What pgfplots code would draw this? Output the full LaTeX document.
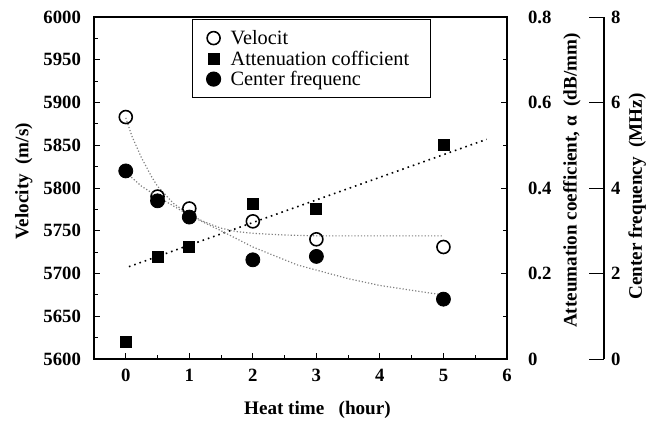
\documentclass[border=0pt]{standalone}
\usepackage{pgfplots}
\pgfplotsset{compat=1.18}
\usepackage{fontspec}
\setmainfont{Liberation Serif}
\begin{document}
\begin{tikzpicture}
\pgfplotsset{
  base/.style={
    scale only axis, width=206.5bp, height=171bp,
    xmin=-0.5, xmax=6,
    /pgf/number format/assume math mode=true,
    ticklabel style={font=\fontsize{9.4}{11}\selectfont\bfseries},
    label style={font=\fontsize{9.6}{11}\selectfont\bfseries},
    tick align=inside,
    major tick length=3bp, minor tick length=2bp,
    tick style={black, line width=0.5pt},
    axis line style={line width=0.6pt},
  },
  myleg/.style={legend image code/.code={\path[draw=none,fill=none] (-10.5bp,0bp) -- (8.5bp,0bp); \draw[##1] plot[only marks] coordinates {(0bp,0bp)};}},
}
% Velocity axis
\begin{axis}[base,
  ymin=5600, ymax=6000,
  ytick={5600,5650,...,6000}, minor ytick={5625,5675,...,5975},
  xtick={0,...,6}, minor xtick={-0.5,0.5,1.5,...,5.5},
  xtick pos=bottom, ytick pos=left,
  yticklabel style={xshift=-3bp},
  xticklabel style={yshift=-1.5bp},
  /pgf/number format/.cd, 1000 sep={}, /pgfplots/.cd,
  xlabel={Heat time\ \ \ (hour)},
  xlabel style={at={(axis description cs:0.541,-0.149)}, anchor=center},
  ylabel={Velocity\ \ (m/s)},
  ylabel style={at={(axis description cs:-0.17,0.52)}, anchor=center, rotate=0},
  legend style={at={(axis description cs:0.2373,0.994)}, anchor=north west,
    draw=black, line width=0.6pt, font=\fontsize{10.2}{12}\selectfont,
    row sep=0pt, column sep=0pt, inner xsep=0pt, inner ysep=4.1bp,
    nodes={inner xsep=0pt, inner ysep=0pt, text height=8.5bp, text depth=1.75bp}},
  legend cell align=left,
]
\addplot[gray, densely dotted, line width=0.6pt, forget plot] coordinates {
(0,5882) (0.1,5860) (0.25,5835) (0.4,5814) (0.5,5802) (0.75,5782) (1,5769) (1.25,5760) (1.5,5753) (1.75,5749) (2,5747) (2.5,5745) (3,5744) (4,5744) (5,5744)};
\addplot[only marks, mark=o, mark size=3.25bp, mark options={line width=0.8pt, fill=white}, black, forget plot] coordinates {
(0,5883) (0.5,5790) (1,5776) (2,5761) (3,5740) (5,5731)};
\addlegendimage{only marks, mark=o, mark size=3.25bp, mark options={line width=0.8pt, fill=white}, black, myleg}
\addlegendentry{\makebox[100bp][l]{Velocit}}
\addlegendimage{only marks, mark=square*, mark size=2.75bp, black, myleg}
\addlegendentry{\makebox[100bp][l]{Attenuation cofficient}}
\addlegendimage{only marks, mark=*, mark size=3.5bp, black, myleg}
\addlegendentry{\makebox[100bp][l]{Center frequenc}}
\end{axis}
% Attenuation axis
\begin{axis}[base,
  axis y line*=right, axis x line=none,
  ymin=0, ymax=0.8,
  ytick={0,0.2,...,0.8}, minor ytick={0.1,0.3,0.5,0.7},
  yticklabels={0,0.2,0.4,0.6,0.8},
  yticklabel style={xshift=7bp},
  ylabel={Atteumation coefficient, α\ \ (dB/mm)},
  ylabel style={at={(axis description cs:1.157,0.522)}, anchor=center, rotate=0},
]
\addplot[black, dotted, line width=0.8pt] coordinates {(0.05,0.216) (5.68,0.514)};
\addplot[only marks, mark=square*, mark size=2.75bp, black] coordinates {
(0,0.04) (0.5,0.24) (1,0.262) (2,0.362) (3,0.35) (5,0.5)};
\end{axis}
% Center frequency axis
\begin{axis}[base, width=255bp, xmax=7.5266,
  axis y line*=right, axis x line=none,
  ymin=0, ymax=8,
  ytick={0,2,4,6,8}, minor ytick={},
  major tick length=7.5bp,
  ylabel={Center frequency\ \ (MHz)},
  ylabel style={at={(axis description cs:1.065,0.475)}, anchor=center, rotate=0},
]
\addplot[gray, densely dotted, line width=0.6pt] coordinates {
(0.05,4.3) (0.25,4.04) (0.5,3.8) (1,3.36) (1.5,3.0) (2,2.62) (2.7,2.2) (3.5,1.88) (4,1.72) (4.8,1.54) (5,1.5)};
\addplot[only marks, mark=*, mark size=3.5bp, black] coordinates {
(0,4.4) (0.5,3.7) (1,3.32) (2,2.32) (3,2.4) (5,1.4)};
\end{axis}
\pgfresetboundingbox
\useasboundingbox (-47bp,-32bp) rectangle (276bp,179.5bp);
\end{tikzpicture}
\end{document}
